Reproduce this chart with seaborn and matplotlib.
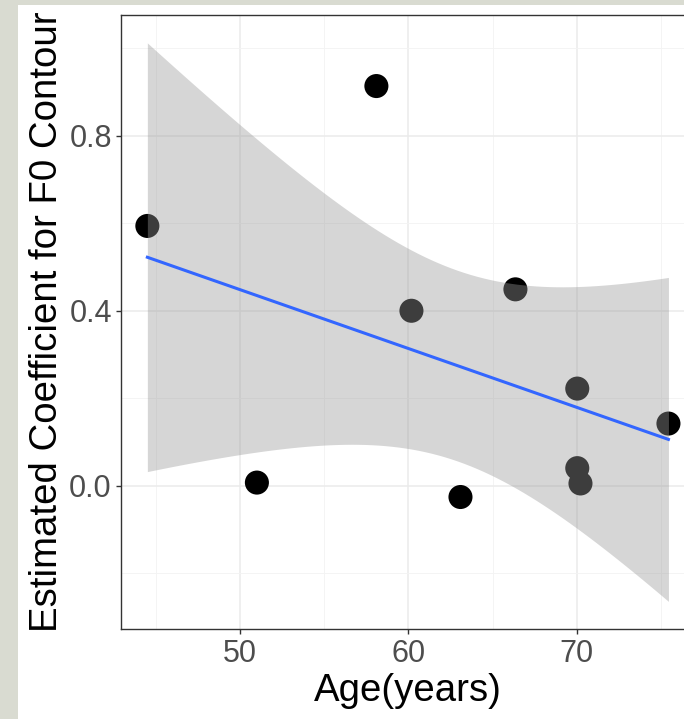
import numpy as np
import pandas as pd
import matplotlib
matplotlib.use("Agg")
import matplotlib.pyplot as plt
import seaborn as sns
from matplotlib.patches import Rectangle
from matplotlib.ticker import FixedLocator

# ---- data ----
age = [44.51, 51.01, 58.10, 60.18, 63.09, 66.35, 70.02, 70.02, 70.21, 75.43]
coef = [0.594, 0.007, 0.914, 0.400, -0.026, 0.449, 0.222, 0.040, 0.005, 0.142]
x_ticks = [50, 60, 70]
x_minor = [45, 55, 65, 75]
y_ticks = [0.0, 0.4, 0.8]
y_minor = [-0.2, 0.2, 0.6, 1.0]
x_label = "Age(years)"
y_label = "Estimated Coefficient for F0 Contour"

df = pd.DataFrame({"age": age, "coef": coef})

# linear fit with 95% confidence band (like ggplot's geom_smooth(method='lm'))
x = df["age"].to_numpy()
y = df["coef"].to_numpy()
n = len(x)
slope, intercept = np.polyfit(x, y, 1)
resid = y - (intercept + slope * x)
s = np.sqrt(np.sum(resid ** 2) / (n - 2))
sxx = np.sum((x - x.mean()) ** 2)
t_crit = 2.306  # t(0.975, df=8)
xg = np.linspace(x.min(), x.max(), 80)
yg = intercept + slope * xg
se = s * np.sqrt(1.0 / n + (xg - x.mean()) ** 2 / sxx)
lo, hi = yg - t_crit * se, yg + t_crit * se
fit = pd.DataFrame({"age": xg, "coef": yg})

# ---- figure ----
W, H, DPI = 684, 719, 100
fig = plt.figure(figsize=(W / DPI, H / DPI), dpi=DPI, facecolor="#d9dbd1")
fig.patches.append(Rectangle((18 / W, 0), 1, (H - 5) / H, transform=fig.transFigure,
                             facecolor="white", edgecolor="none", zorder=-10))

left_px, right_px, top_px, bottom_px = 121.3, 694.5, 15.0, 629.3
ax = fig.add_axes([left_px / W, (H - bottom_px) / H,
                   (right_px - left_px) / W, (bottom_px - top_px) / H])
ax.set_zorder(5)
ax.set_facecolor("white")

sns.scatterplot(data=df, x="age", y="coef", ax=ax, s=300, color="black",
                edgecolor="none", linewidth=0, zorder=3)
ax.fill_between(xg, lo, hi, color="#999999", alpha=0.4, linewidth=0, zorder=4)
sns.lineplot(data=fit, x="age", y="coef", ax=ax, color="#3366FF", linewidth=2.2,
             zorder=5)

# ggplot-style 5% expansion
xr = x.max() - x.min()
ax.set_xlim(x.min() - 0.05 * xr, x.max() + 0.05 * xr)
ymin, ymax = min(lo.min(), y.min()), max(hi.max(), y.max())
yr = ymax - ymin
ax.set_ylim(ymin - 0.05 * yr, ymax + 0.05 * yr)

ax.xaxis.set_major_locator(FixedLocator(x_ticks))
ax.xaxis.set_minor_locator(FixedLocator(x_minor))
ax.yaxis.set_major_locator(FixedLocator(y_ticks))
ax.yaxis.set_minor_locator(FixedLocator(y_minor))
ax.set_xticklabels([str(v) for v in x_ticks])
ax.set_yticklabels([f"{v:.1f}" for v in y_ticks])

ax.grid(which="major", color="#ebebeb", linewidth=1.1, zorder=0)
ax.grid(which="minor", color="#f3f3f3", linewidth=0.6, zorder=0)
ax.set_axisbelow(True)

font = "Liberation Sans"
ax.tick_params(which="major", length=3.8, width=1.0, color="#333333",
               labelsize=22, labelcolor="#4d4d4d", pad=3)
ax.tick_params(which="minor", length=0)
for lab in ax.get_xticklabels() + ax.get_yticklabels():
    lab.set_fontfamily(font)

for sp in ax.spines.values():
    sp.set_color("#333333")
    sp.set_linewidth(1.0)

ax.set_xlabel(x_label, fontsize=27.6, fontfamily=font, color="black", labelpad=3)
ax.set_ylabel(y_label, fontsize=27.6, fontfamily=font, color="black", labelpad=3)

fig.savefig("out.png", dpi=DPI, facecolor=fig.get_facecolor())
